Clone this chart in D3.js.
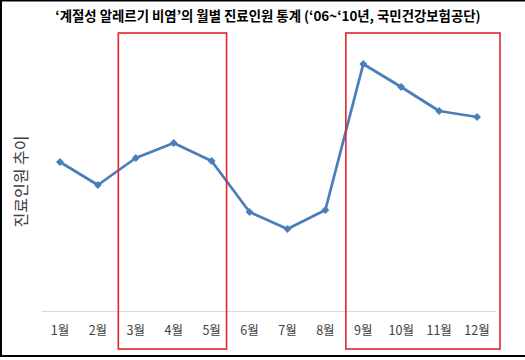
<!DOCTYPE html>
<html>
<head>
<meta charset="utf-8">
<script src="https://cdn.jsdelivr.net/npm/d3@7"></script>
<style>
  html, body { margin: 0; padding: 0; background: #fff; }
  svg { display: block; }
</style>
</head>
<body>
<svg id="chart" width="525" height="360"></svg>
<script>
// Data (relative values; y axis has no numeric labels)
const months = ["1월","2월","3월","4월","5월","6월","7월","8월","9월","10월","11월","12월"];
const patients = [149, 126, 153, 168, 150, 99, 82, 101, 247, 224, 200, 194];
const highlightGroups = [["3월","5월"], ["9월","12월"]];
const titleText = "‘계절성 알레르기 비염’의 월별 진료인원 통계 (‘06~‘10년, 국민건강보험공단)";
const yLabel = "진료인원 추이";

const W = 525, H = 360;
const margin = { left: 41, right: 29, top: 40, bottom: 49 };
const svg = d3.select("#chart");

const x = d3.scaleBand().domain(months).range([margin.left, W - margin.right]).padding(0);
const y = d3.scaleLinear().domain([0, 271]).range([H - margin.bottom, margin.top]);

// Outer frame (left, top, bottom)
svg.append("path")
  .attr("d", `M${W+2},0.5 H1 V356 H${W+2}`)
  .attr("fill", "none").attr("stroke", "#000").attr("stroke-width", 2);

// Title
svg.append("text")
  .attr("x", 268).attr("y", 21)
  .attr("text-anchor", "middle")
  .attr("font-family", "'Noto Sans CJK KR', sans-serif")
  .attr("font-weight", "bold")
  .attr("font-size", 13.4)
  .attr("fill", "#000")
  .text(titleText);

// Y label
svg.append("text")
  .attr("transform", `translate(27, ${(y.range()[0] + y.range()[1]) / 2 + 6}) rotate(-90)`)
  .attr("text-anchor", "middle")
  .attr("font-family", "'Noto Sans CJK KR', sans-serif")
  .attr("font-size", 16)
  .attr("fill", "#404040")
  .text(yLabel);

// Baseline axis (category axis)
const xAxis = d3.axisBottom(x).tickSize(0).tickPadding(15);
const gx = svg.append("g")
  .attr("transform", `translate(0, ${y(0)})`)
  .call(xAxis);
gx.select(".domain").attr("stroke", "#d9d9d9").attr("stroke-width", 1);
gx.selectAll("text")
  .attr("font-family", "'Noto Sans CJK KR', sans-serif")
  .attr("font-size", 12.5)
  .attr("fill", "#404040");

// Line
const cx = d => x(d) + x.bandwidth() / 2;
const line = d3.line()
  .x((d, i) => cx(months[i]))
  .y(d => y(d));
svg.append("path")
  .datum(patients)
  .attr("d", line)
  .attr("fill", "none")
  .attr("stroke", "#4a7ebb")
  .attr("stroke-width", 2.75)
  .attr("stroke-linejoin", "round");

// Markers (diamonds)
svg.selectAll(".mk")
  .data(patients)
  .join("path")
  .attr("class", "mk")
  .attr("transform", (d, i) => `translate(${cx(months[i])},${y(d)})`)
  .attr("d", d3.symbol(d3.symbolDiamond2, 40))
  .attr("fill", "#4a7ebb");

// Highlight boxes
const bw = x.bandwidth();
highlightGroups.forEach(([a, b]) => {
  const x0 = x(a);
  const x1 = x(b) + bw;
  const adj = b === "12월" ? 4 : -4;
  svg.append("rect")
    .attr("x", x0 + 1.5)
    .attr("y", 33)
    .attr("width", x1 - x0 - 1.5 + adj)
    .attr("height", 316)
    .attr("fill", "none")
    .attr("stroke", "#e0262b")
    .attr("stroke-width", 1.6);
});
</script>
</body>
</html>
